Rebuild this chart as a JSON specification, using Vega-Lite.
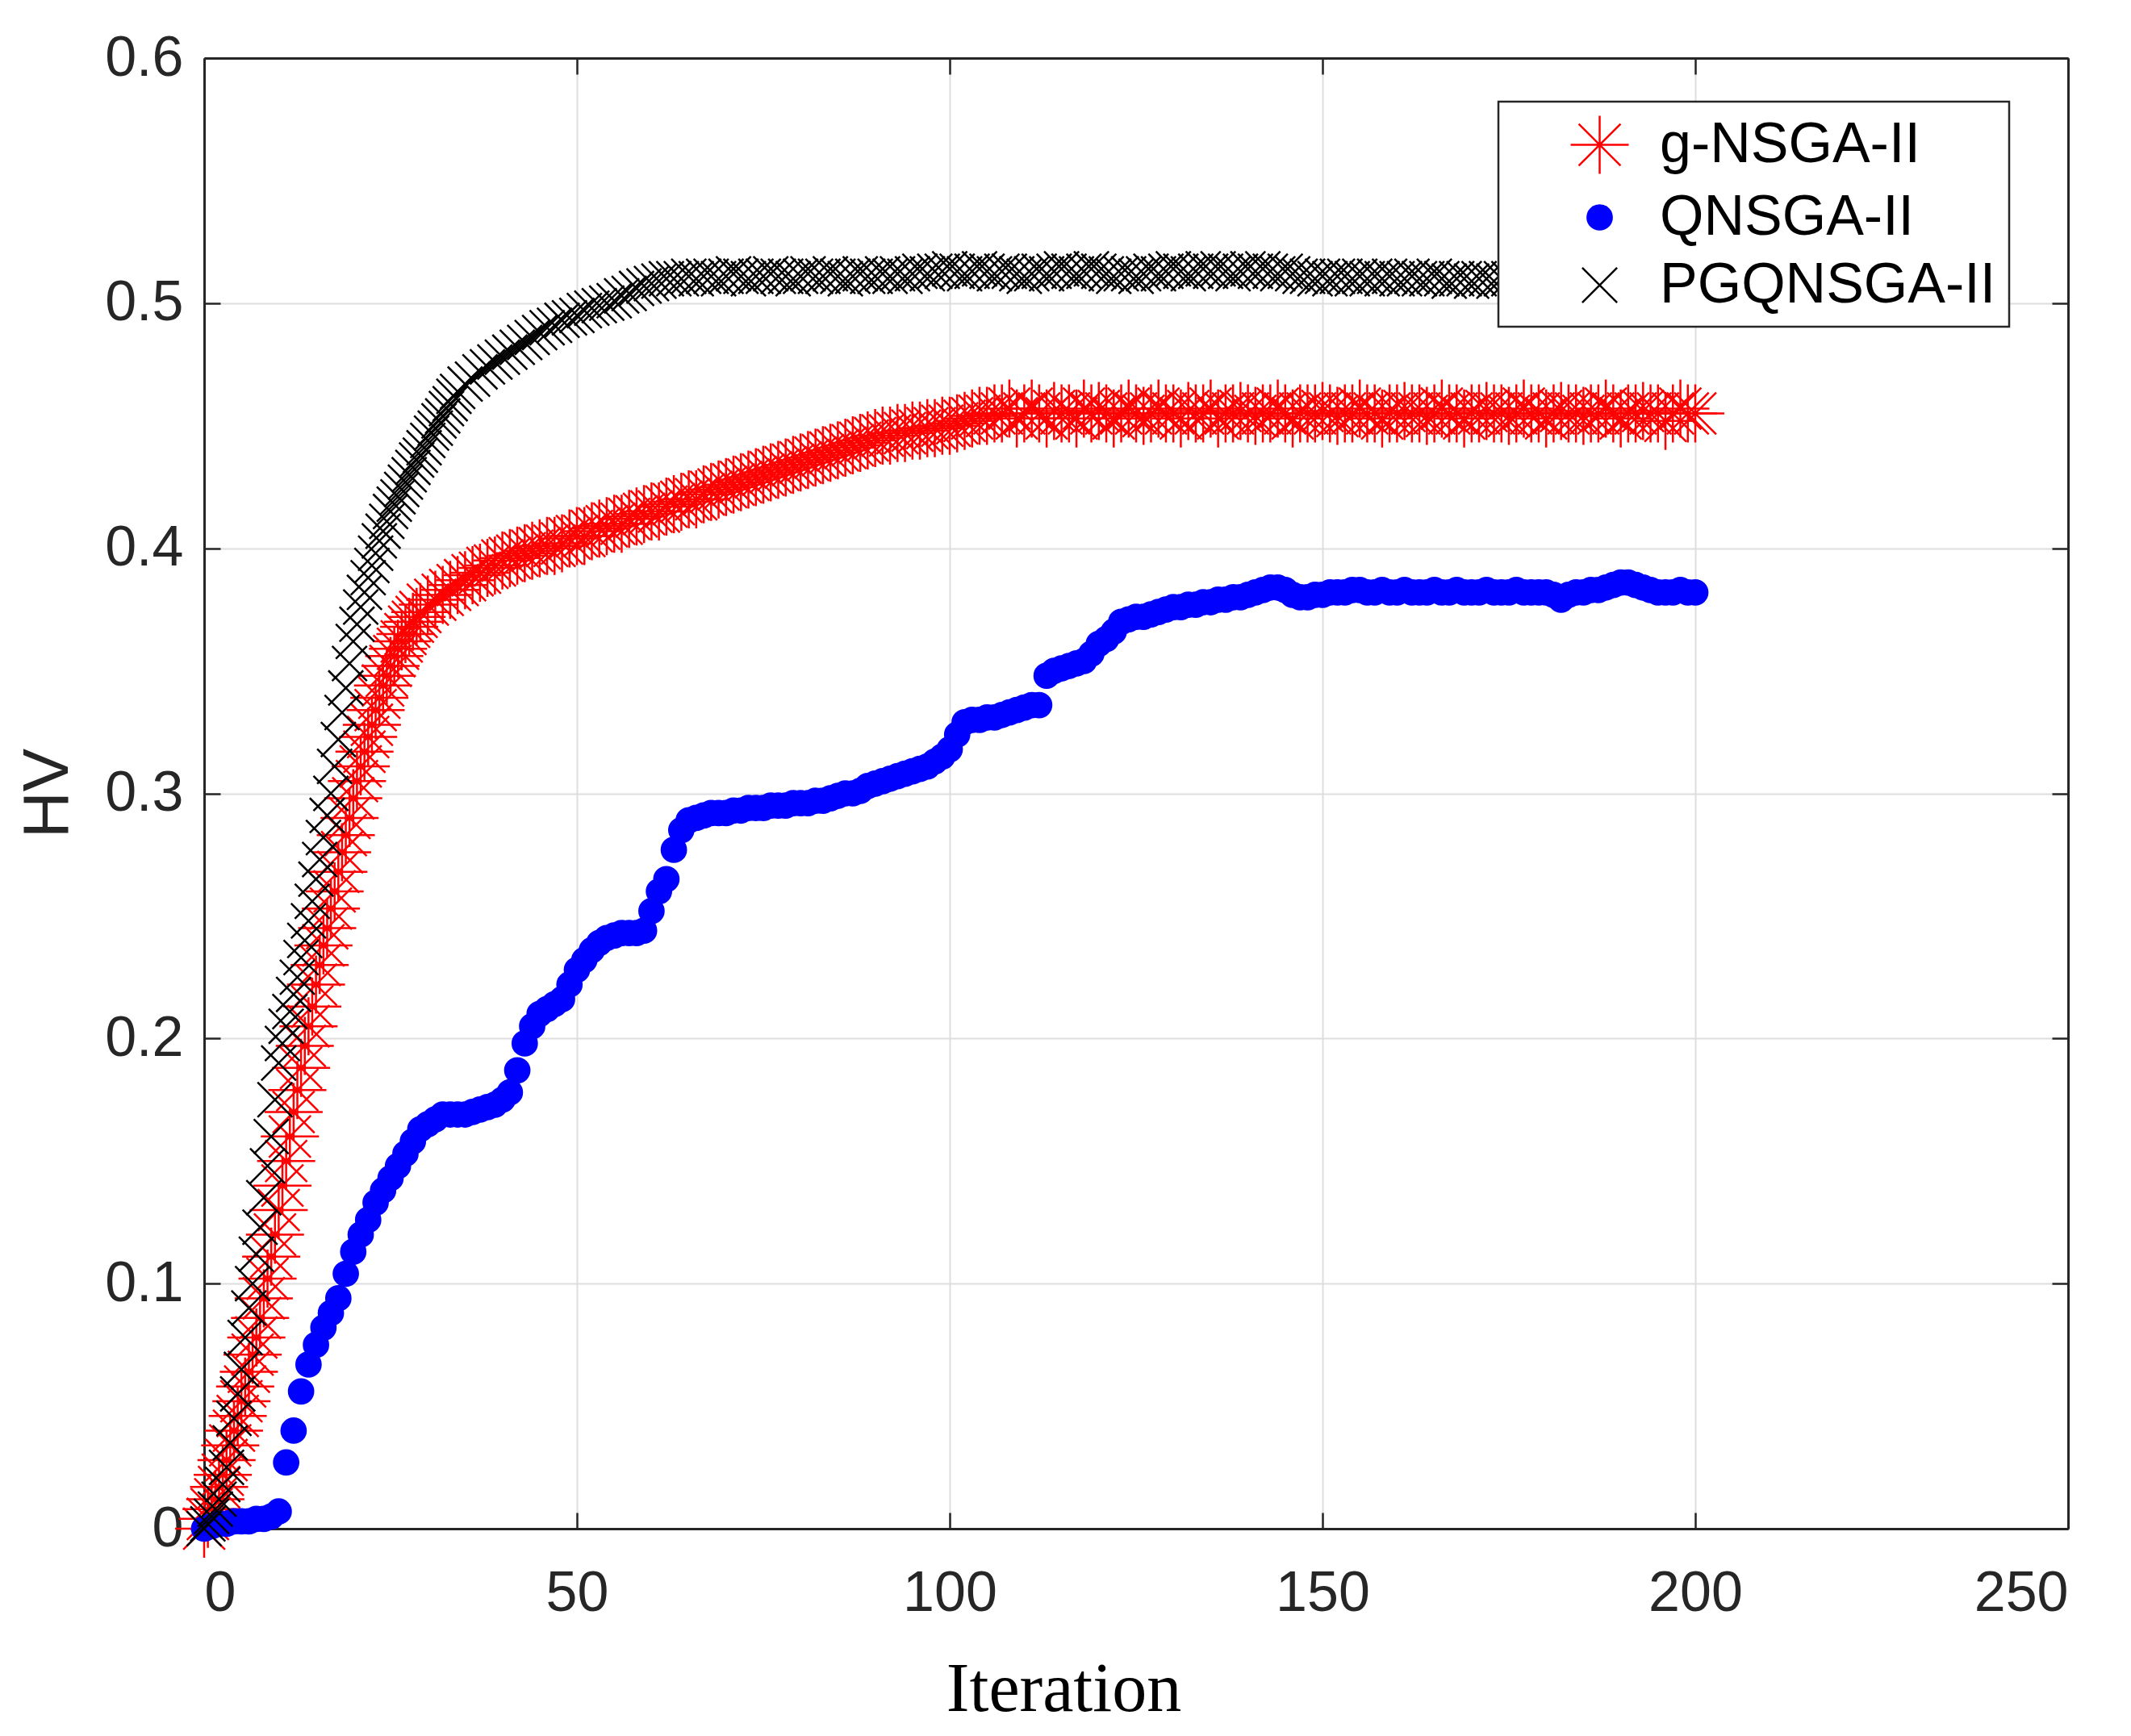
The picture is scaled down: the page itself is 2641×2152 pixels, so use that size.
{
  "$schema": "https://vega.github.io/schema/vega-lite/v6.json",
  "background": "white",
  "autosize": {"type": "none"},
  "padding": {"left": 253, "top": 72, "right": 78, "bottom": 257},
  "width": 2310,
  "height": 1823,
  "data": {
    "values": [
      {"s":"g-NSGA-II","i":0,"hv":0.000},{"s":"g-NSGA-II","i":1,"hv":0.008},{"s":"g-NSGA-II","i":2,"hv":0.017},{"s":"g-NSGA-II","i":3,"hv":0.028},{"s":"g-NSGA-II","i":4,"hv":0.040},
      {"s":"g-NSGA-II","i":5,"hv":0.052},{"s":"g-NSGA-II","i":6,"hv":0.064},{"s":"g-NSGA-II","i":7,"hv":0.078},{"s":"g-NSGA-II","i":8,"hv":0.094},{"s":"g-NSGA-II","i":9,"hv":0.111},
      {"s":"g-NSGA-II","i":10,"hv":0.130},{"s":"g-NSGA-II","i":11,"hv":0.150},{"s":"g-NSGA-II","i":12,"hv":0.170},{"s":"g-NSGA-II","i":13,"hv":0.188},{"s":"g-NSGA-II","i":14,"hv":0.205},
      {"s":"g-NSGA-II","i":15,"hv":0.222},{"s":"g-NSGA-II","i":16,"hv":0.238},{"s":"g-NSGA-II","i":17,"hv":0.253},{"s":"g-NSGA-II","i":18,"hv":0.268},{"s":"g-NSGA-II","i":19,"hv":0.283},
      {"s":"g-NSGA-II","i":20,"hv":0.298},{"s":"g-NSGA-II","i":21,"hv":0.311},{"s":"g-NSGA-II","i":22,"hv":0.323},{"s":"g-NSGA-II","i":23,"hv":0.334},{"s":"g-NSGA-II","i":24,"hv":0.344},
      {"s":"g-NSGA-II","i":25,"hv":0.352},{"s":"g-NSGA-II","i":26,"hv":0.359},{"s":"g-NSGA-II","i":27,"hv":0.365},{"s":"g-NSGA-II","i":28,"hv":0.370},{"s":"g-NSGA-II","i":29,"hv":0.374},
      {"s":"g-NSGA-II","i":30,"hv":0.377},{"s":"g-NSGA-II","i":31,"hv":0.379},{"s":"g-NSGA-II","i":32,"hv":0.381},{"s":"g-NSGA-II","i":33,"hv":0.383},{"s":"g-NSGA-II","i":34,"hv":0.385},
      {"s":"g-NSGA-II","i":35,"hv":0.387},{"s":"g-NSGA-II","i":36,"hv":0.389},{"s":"g-NSGA-II","i":37,"hv":0.390},{"s":"g-NSGA-II","i":38,"hv":0.392},{"s":"g-NSGA-II","i":39,"hv":0.393},
      {"s":"g-NSGA-II","i":40,"hv":0.395},{"s":"g-NSGA-II","i":41,"hv":0.396},{"s":"g-NSGA-II","i":42,"hv":0.397},{"s":"g-NSGA-II","i":43,"hv":0.398},{"s":"g-NSGA-II","i":44,"hv":0.399},
      {"s":"g-NSGA-II","i":45,"hv":0.400},{"s":"g-NSGA-II","i":46,"hv":0.401},{"s":"g-NSGA-II","i":47,"hv":0.401},{"s":"g-NSGA-II","i":48,"hv":0.402},{"s":"g-NSGA-II","i":49,"hv":0.404},
      {"s":"g-NSGA-II","i":50,"hv":0.405},{"s":"g-NSGA-II","i":51,"hv":0.405},{"s":"g-NSGA-II","i":52,"hv":0.407},{"s":"g-NSGA-II","i":53,"hv":0.408},{"s":"g-NSGA-II","i":54,"hv":0.409},
      {"s":"g-NSGA-II","i":55,"hv":0.410},{"s":"g-NSGA-II","i":56,"hv":0.410},{"s":"g-NSGA-II","i":57,"hv":0.412},{"s":"g-NSGA-II","i":58,"hv":0.413},{"s":"g-NSGA-II","i":59,"hv":0.414},
      {"s":"g-NSGA-II","i":60,"hv":0.415},{"s":"g-NSGA-II","i":61,"hv":0.415},{"s":"g-NSGA-II","i":62,"hv":0.417},{"s":"g-NSGA-II","i":63,"hv":0.418},{"s":"g-NSGA-II","i":64,"hv":0.419},
      {"s":"g-NSGA-II","i":65,"hv":0.420},{"s":"g-NSGA-II","i":66,"hv":0.420},{"s":"g-NSGA-II","i":67,"hv":0.422},{"s":"g-NSGA-II","i":68,"hv":0.423},{"s":"g-NSGA-II","i":69,"hv":0.424},
      {"s":"g-NSGA-II","i":70,"hv":0.425},{"s":"g-NSGA-II","i":71,"hv":0.426},{"s":"g-NSGA-II","i":72,"hv":0.427},{"s":"g-NSGA-II","i":73,"hv":0.428},{"s":"g-NSGA-II","i":74,"hv":0.429},
      {"s":"g-NSGA-II","i":75,"hv":0.430},{"s":"g-NSGA-II","i":76,"hv":0.431},{"s":"g-NSGA-II","i":77,"hv":0.432},{"s":"g-NSGA-II","i":78,"hv":0.433},{"s":"g-NSGA-II","i":79,"hv":0.434},
      {"s":"g-NSGA-II","i":80,"hv":0.435},{"s":"g-NSGA-II","i":81,"hv":0.436},{"s":"g-NSGA-II","i":82,"hv":0.437},{"s":"g-NSGA-II","i":83,"hv":0.438},{"s":"g-NSGA-II","i":84,"hv":0.439},
      {"s":"g-NSGA-II","i":85,"hv":0.440},{"s":"g-NSGA-II","i":86,"hv":0.441},{"s":"g-NSGA-II","i":87,"hv":0.442},{"s":"g-NSGA-II","i":88,"hv":0.443},{"s":"g-NSGA-II","i":89,"hv":0.444},
      {"s":"g-NSGA-II","i":90,"hv":0.445},{"s":"g-NSGA-II","i":91,"hv":0.446},{"s":"g-NSGA-II","i":92,"hv":0.446},{"s":"g-NSGA-II","i":93,"hv":0.447},{"s":"g-NSGA-II","i":94,"hv":0.447},
      {"s":"g-NSGA-II","i":95,"hv":0.448},{"s":"g-NSGA-II","i":96,"hv":0.448},{"s":"g-NSGA-II","i":97,"hv":0.449},{"s":"g-NSGA-II","i":98,"hv":0.449},{"s":"g-NSGA-II","i":99,"hv":0.450},
      {"s":"g-NSGA-II","i":100,"hv":0.450},{"s":"g-NSGA-II","i":101,"hv":0.451},{"s":"g-NSGA-II","i":102,"hv":0.452},{"s":"g-NSGA-II","i":103,"hv":0.453},{"s":"g-NSGA-II","i":104,"hv":0.454},
      {"s":"g-NSGA-II","i":105,"hv":0.454},{"s":"g-NSGA-II","i":106,"hv":0.455},{"s":"g-NSGA-II","i":107,"hv":0.455},{"s":"g-NSGA-II","i":108,"hv":0.457},{"s":"g-NSGA-II","i":109,"hv":0.453},
      {"s":"g-NSGA-II","i":110,"hv":0.455},{"s":"g-NSGA-II","i":111,"hv":0.457},{"s":"g-NSGA-II","i":112,"hv":0.455},{"s":"g-NSGA-II","i":113,"hv":0.453},{"s":"g-NSGA-II","i":114,"hv":0.456},
      {"s":"g-NSGA-II","i":115,"hv":0.455},{"s":"g-NSGA-II","i":116,"hv":0.455},{"s":"g-NSGA-II","i":117,"hv":0.453},{"s":"g-NSGA-II","i":118,"hv":0.457},{"s":"g-NSGA-II","i":119,"hv":0.455},
      {"s":"g-NSGA-II","i":120,"hv":0.456},{"s":"g-NSGA-II","i":121,"hv":0.455},{"s":"g-NSGA-II","i":122,"hv":0.453},{"s":"g-NSGA-II","i":123,"hv":0.455},{"s":"g-NSGA-II","i":124,"hv":0.457},
      {"s":"g-NSGA-II","i":125,"hv":0.455},{"s":"g-NSGA-II","i":126,"hv":0.454},{"s":"g-NSGA-II","i":127,"hv":0.455},{"s":"g-NSGA-II","i":128,"hv":0.457},{"s":"g-NSGA-II","i":129,"hv":0.455},
      {"s":"g-NSGA-II","i":130,"hv":0.455},{"s":"g-NSGA-II","i":131,"hv":0.453},{"s":"g-NSGA-II","i":132,"hv":0.456},{"s":"g-NSGA-II","i":133,"hv":0.455},{"s":"g-NSGA-II","i":134,"hv":0.455},
      {"s":"g-NSGA-II","i":135,"hv":0.457},{"s":"g-NSGA-II","i":136,"hv":0.453},{"s":"g-NSGA-II","i":137,"hv":0.455},{"s":"g-NSGA-II","i":138,"hv":0.455},{"s":"g-NSGA-II","i":139,"hv":0.456},
      {"s":"g-NSGA-II","i":140,"hv":0.455},{"s":"g-NSGA-II","i":141,"hv":0.454},{"s":"g-NSGA-II","i":142,"hv":0.455},{"s":"g-NSGA-II","i":143,"hv":0.455},{"s":"g-NSGA-II","i":144,"hv":0.457},
      {"s":"g-NSGA-II","i":145,"hv":0.455},{"s":"g-NSGA-II","i":146,"hv":0.453},{"s":"g-NSGA-II","i":147,"hv":0.455},{"s":"g-NSGA-II","i":148,"hv":0.455},{"s":"g-NSGA-II","i":149,"hv":0.455},
      {"s":"g-NSGA-II","i":150,"hv":0.456},{"s":"g-NSGA-II","i":151,"hv":0.455},{"s":"g-NSGA-II","i":152,"hv":0.454},{"s":"g-NSGA-II","i":153,"hv":0.455},{"s":"g-NSGA-II","i":154,"hv":0.455},
      {"s":"g-NSGA-II","i":155,"hv":0.457},{"s":"g-NSGA-II","i":156,"hv":0.455},{"s":"g-NSGA-II","i":157,"hv":0.455},{"s":"g-NSGA-II","i":158,"hv":0.453},{"s":"g-NSGA-II","i":159,"hv":0.455},
      {"s":"g-NSGA-II","i":160,"hv":0.455},{"s":"g-NSGA-II","i":161,"hv":0.456},{"s":"g-NSGA-II","i":162,"hv":0.455},{"s":"g-NSGA-II","i":163,"hv":0.455},{"s":"g-NSGA-II","i":164,"hv":0.454},
      {"s":"g-NSGA-II","i":165,"hv":0.455},{"s":"g-NSGA-II","i":166,"hv":0.457},{"s":"g-NSGA-II","i":167,"hv":0.455},{"s":"g-NSGA-II","i":168,"hv":0.455},{"s":"g-NSGA-II","i":169,"hv":0.453},
      {"s":"g-NSGA-II","i":170,"hv":0.455},{"s":"g-NSGA-II","i":171,"hv":0.455},{"s":"g-NSGA-II","i":172,"hv":0.456},{"s":"g-NSGA-II","i":173,"hv":0.455},{"s":"g-NSGA-II","i":174,"hv":0.455},
      {"s":"g-NSGA-II","i":175,"hv":0.454},{"s":"g-NSGA-II","i":176,"hv":0.455},{"s":"g-NSGA-II","i":177,"hv":0.457},{"s":"g-NSGA-II","i":178,"hv":0.455},{"s":"g-NSGA-II","i":179,"hv":0.455},
      {"s":"g-NSGA-II","i":180,"hv":0.453},{"s":"g-NSGA-II","i":181,"hv":0.455},{"s":"g-NSGA-II","i":182,"hv":0.456},{"s":"g-NSGA-II","i":183,"hv":0.455},{"s":"g-NSGA-II","i":184,"hv":0.455},
      {"s":"g-NSGA-II","i":185,"hv":0.454},{"s":"g-NSGA-II","i":186,"hv":0.455},{"s":"g-NSGA-II","i":187,"hv":0.455},{"s":"g-NSGA-II","i":188,"hv":0.457},{"s":"g-NSGA-II","i":189,"hv":0.455},
      {"s":"g-NSGA-II","i":190,"hv":0.453},{"s":"g-NSGA-II","i":191,"hv":0.455},{"s":"g-NSGA-II","i":192,"hv":0.455},{"s":"g-NSGA-II","i":193,"hv":0.456},{"s":"g-NSGA-II","i":194,"hv":0.455},
      {"s":"g-NSGA-II","i":195,"hv":0.455},{"s":"g-NSGA-II","i":196,"hv":0.452},{"s":"g-NSGA-II","i":197,"hv":0.455},{"s":"g-NSGA-II","i":198,"hv":0.457},{"s":"g-NSGA-II","i":199,"hv":0.455},
      {"s":"g-NSGA-II","i":200,"hv":0.455},
      {"s":"g-NSGA-II","i":0.5,"hv":0.004},{"s":"g-NSGA-II","i":1.5,"hv":0.012},{"s":"g-NSGA-II","i":2.5,"hv":0.022},{"s":"g-NSGA-II","i":3.5,"hv":0.034},{"s":"g-NSGA-II","i":4.5,"hv":0.046},
      {"s":"g-NSGA-II","i":5.5,"hv":0.058},{"s":"g-NSGA-II","i":6.5,"hv":0.071},{"s":"g-NSGA-II","i":7.5,"hv":0.086},{"s":"g-NSGA-II","i":8.5,"hv":0.102},{"s":"g-NSGA-II","i":9.5,"hv":0.120},
      {"s":"g-NSGA-II","i":10.5,"hv":0.140},{"s":"g-NSGA-II","i":11.5,"hv":0.160},{"s":"g-NSGA-II","i":12.5,"hv":0.179},{"s":"g-NSGA-II","i":13.5,"hv":0.197},{"s":"g-NSGA-II","i":14.5,"hv":0.213},
      {"s":"g-NSGA-II","i":15.5,"hv":0.230},{"s":"g-NSGA-II","i":16.5,"hv":0.245},{"s":"g-NSGA-II","i":17.5,"hv":0.260},{"s":"g-NSGA-II","i":18.5,"hv":0.276},{"s":"g-NSGA-II","i":19.5,"hv":0.290},
      {"s":"g-NSGA-II","i":20.5,"hv":0.305},{"s":"g-NSGA-II","i":21.5,"hv":0.317},{"s":"g-NSGA-II","i":22.5,"hv":0.328},{"s":"g-NSGA-II","i":23.5,"hv":0.339},{"s":"g-NSGA-II","i":24.5,"hv":0.348},
      {"s":"g-NSGA-II","i":25.5,"hv":0.356},{"s":"g-NSGA-II","i":26.5,"hv":0.362},{"s":"g-NSGA-II","i":27.5,"hv":0.368},{"s":"g-NSGA-II","i":28.5,"hv":0.372},

      {"s":"QNSGA-II","i":0,"hv":0.000},{"s":"QNSGA-II","i":1,"hv":0.001},{"s":"QNSGA-II","i":2,"hv":0.002},{"s":"QNSGA-II","i":3,"hv":0.002},{"s":"QNSGA-II","i":4,"hv":0.003},
      {"s":"QNSGA-II","i":5,"hv":0.003},{"s":"QNSGA-II","i":6,"hv":0.003},{"s":"QNSGA-II","i":7,"hv":0.004},{"s":"QNSGA-II","i":8,"hv":0.004},{"s":"QNSGA-II","i":9,"hv":0.005},
      {"s":"QNSGA-II","i":10,"hv":0.007},{"s":"QNSGA-II","i":11,"hv":0.027},{"s":"QNSGA-II","i":12,"hv":0.040},{"s":"QNSGA-II","i":13,"hv":0.056},{"s":"QNSGA-II","i":14,"hv":0.067},
      {"s":"QNSGA-II","i":15,"hv":0.075},{"s":"QNSGA-II","i":16,"hv":0.082},{"s":"QNSGA-II","i":17,"hv":0.088},{"s":"QNSGA-II","i":18,"hv":0.094},{"s":"QNSGA-II","i":19,"hv":0.104},
      {"s":"QNSGA-II","i":20,"hv":0.113},{"s":"QNSGA-II","i":21,"hv":0.120},{"s":"QNSGA-II","i":22,"hv":0.126},{"s":"QNSGA-II","i":23,"hv":0.133},{"s":"QNSGA-II","i":24,"hv":0.138},
      {"s":"QNSGA-II","i":25,"hv":0.143},{"s":"QNSGA-II","i":26,"hv":0.148},{"s":"QNSGA-II","i":27,"hv":0.153},{"s":"QNSGA-II","i":28,"hv":0.158},{"s":"QNSGA-II","i":29,"hv":0.163},
      {"s":"QNSGA-II","i":30,"hv":0.165},{"s":"QNSGA-II","i":31,"hv":0.167},{"s":"QNSGA-II","i":32,"hv":0.169},{"s":"QNSGA-II","i":33,"hv":0.169},{"s":"QNSGA-II","i":34,"hv":0.169},
      {"s":"QNSGA-II","i":35,"hv":0.169},{"s":"QNSGA-II","i":36,"hv":0.170},{"s":"QNSGA-II","i":37,"hv":0.171},{"s":"QNSGA-II","i":38,"hv":0.172},{"s":"QNSGA-II","i":39,"hv":0.173},
      {"s":"QNSGA-II","i":40,"hv":0.175},{"s":"QNSGA-II","i":41,"hv":0.178},{"s":"QNSGA-II","i":42,"hv":0.187},{"s":"QNSGA-II","i":43,"hv":0.198},{"s":"QNSGA-II","i":44,"hv":0.205},
      {"s":"QNSGA-II","i":45,"hv":0.210},{"s":"QNSGA-II","i":46,"hv":0.212},{"s":"QNSGA-II","i":47,"hv":0.214},{"s":"QNSGA-II","i":48,"hv":0.216},{"s":"QNSGA-II","i":49,"hv":0.222},
      {"s":"QNSGA-II","i":50,"hv":0.228},{"s":"QNSGA-II","i":51,"hv":0.232},{"s":"QNSGA-II","i":52,"hv":0.236},{"s":"QNSGA-II","i":53,"hv":0.239},{"s":"QNSGA-II","i":54,"hv":0.241},
      {"s":"QNSGA-II","i":55,"hv":0.242},{"s":"QNSGA-II","i":56,"hv":0.243},{"s":"QNSGA-II","i":57,"hv":0.243},{"s":"QNSGA-II","i":58,"hv":0.243},{"s":"QNSGA-II","i":59,"hv":0.244},
      {"s":"QNSGA-II","i":60,"hv":0.252},{"s":"QNSGA-II","i":61,"hv":0.260},{"s":"QNSGA-II","i":62,"hv":0.265},{"s":"QNSGA-II","i":63,"hv":0.277},{"s":"QNSGA-II","i":64,"hv":0.285},
      {"s":"QNSGA-II","i":65,"hv":0.289},{"s":"QNSGA-II","i":66,"hv":0.290},{"s":"QNSGA-II","i":67,"hv":0.291},{"s":"QNSGA-II","i":68,"hv":0.292},{"s":"QNSGA-II","i":69,"hv":0.292},
      {"s":"QNSGA-II","i":70,"hv":0.292},{"s":"QNSGA-II","i":71,"hv":0.293},{"s":"QNSGA-II","i":72,"hv":0.293},{"s":"QNSGA-II","i":73,"hv":0.294},{"s":"QNSGA-II","i":74,"hv":0.294},
      {"s":"QNSGA-II","i":75,"hv":0.294},{"s":"QNSGA-II","i":76,"hv":0.295},{"s":"QNSGA-II","i":77,"hv":0.295},{"s":"QNSGA-II","i":78,"hv":0.295},{"s":"QNSGA-II","i":79,"hv":0.296},
      {"s":"QNSGA-II","i":80,"hv":0.296},{"s":"QNSGA-II","i":81,"hv":0.296},{"s":"QNSGA-II","i":82,"hv":0.297},{"s":"QNSGA-II","i":83,"hv":0.297},{"s":"QNSGA-II","i":84,"hv":0.298},
      {"s":"QNSGA-II","i":85,"hv":0.299},{"s":"QNSGA-II","i":86,"hv":0.300},{"s":"QNSGA-II","i":87,"hv":0.300},{"s":"QNSGA-II","i":88,"hv":0.301},{"s":"QNSGA-II","i":89,"hv":0.303},
      {"s":"QNSGA-II","i":90,"hv":0.304},{"s":"QNSGA-II","i":91,"hv":0.305},{"s":"QNSGA-II","i":92,"hv":0.306},{"s":"QNSGA-II","i":93,"hv":0.307},{"s":"QNSGA-II","i":94,"hv":0.308},
      {"s":"QNSGA-II","i":95,"hv":0.309},{"s":"QNSGA-II","i":96,"hv":0.310},{"s":"QNSGA-II","i":97,"hv":0.311},{"s":"QNSGA-II","i":98,"hv":0.313},{"s":"QNSGA-II","i":99,"hv":0.315},
      {"s":"QNSGA-II","i":100,"hv":0.318},{"s":"QNSGA-II","i":101,"hv":0.324},{"s":"QNSGA-II","i":102,"hv":0.329},{"s":"QNSGA-II","i":103,"hv":0.330},{"s":"QNSGA-II","i":104,"hv":0.330},
      {"s":"QNSGA-II","i":105,"hv":0.331},{"s":"QNSGA-II","i":106,"hv":0.331},{"s":"QNSGA-II","i":107,"hv":0.332},{"s":"QNSGA-II","i":108,"hv":0.333},{"s":"QNSGA-II","i":109,"hv":0.334},
      {"s":"QNSGA-II","i":110,"hv":0.335},{"s":"QNSGA-II","i":111,"hv":0.336},{"s":"QNSGA-II","i":112,"hv":0.336},{"s":"QNSGA-II","i":113,"hv":0.348},{"s":"QNSGA-II","i":114,"hv":0.350},
      {"s":"QNSGA-II","i":115,"hv":0.351},{"s":"QNSGA-II","i":116,"hv":0.352},{"s":"QNSGA-II","i":117,"hv":0.353},{"s":"QNSGA-II","i":118,"hv":0.354},{"s":"QNSGA-II","i":119,"hv":0.357},
      {"s":"QNSGA-II","i":120,"hv":0.361},{"s":"QNSGA-II","i":121,"hv":0.363},{"s":"QNSGA-II","i":122,"hv":0.366},{"s":"QNSGA-II","i":123,"hv":0.370},{"s":"QNSGA-II","i":124,"hv":0.371},
      {"s":"QNSGA-II","i":125,"hv":0.372},{"s":"QNSGA-II","i":126,"hv":0.372},{"s":"QNSGA-II","i":127,"hv":0.373},{"s":"QNSGA-II","i":128,"hv":0.374},{"s":"QNSGA-II","i":129,"hv":0.375},
      {"s":"QNSGA-II","i":130,"hv":0.376},{"s":"QNSGA-II","i":131,"hv":0.376},{"s":"QNSGA-II","i":132,"hv":0.377},{"s":"QNSGA-II","i":133,"hv":0.377},{"s":"QNSGA-II","i":134,"hv":0.378},
      {"s":"QNSGA-II","i":135,"hv":0.378},{"s":"QNSGA-II","i":136,"hv":0.379},{"s":"QNSGA-II","i":137,"hv":0.379},{"s":"QNSGA-II","i":138,"hv":0.380},{"s":"QNSGA-II","i":139,"hv":0.380},
      {"s":"QNSGA-II","i":140,"hv":0.381},{"s":"QNSGA-II","i":141,"hv":0.382},{"s":"QNSGA-II","i":142,"hv":0.383},{"s":"QNSGA-II","i":143,"hv":0.384},{"s":"QNSGA-II","i":144,"hv":0.384},
      {"s":"QNSGA-II","i":145,"hv":0.383},{"s":"QNSGA-II","i":146,"hv":0.381},{"s":"QNSGA-II","i":147,"hv":0.380},{"s":"QNSGA-II","i":148,"hv":0.380},{"s":"QNSGA-II","i":149,"hv":0.381},
      {"s":"QNSGA-II","i":150,"hv":0.381},{"s":"QNSGA-II","i":151,"hv":0.382},{"s":"QNSGA-II","i":152,"hv":0.382},{"s":"QNSGA-II","i":153,"hv":0.382},{"s":"QNSGA-II","i":154,"hv":0.383},
      {"s":"QNSGA-II","i":155,"hv":0.383},{"s":"QNSGA-II","i":156,"hv":0.382},{"s":"QNSGA-II","i":157,"hv":0.382},{"s":"QNSGA-II","i":158,"hv":0.383},{"s":"QNSGA-II","i":159,"hv":0.382},
      {"s":"QNSGA-II","i":160,"hv":0.382},{"s":"QNSGA-II","i":161,"hv":0.383},{"s":"QNSGA-II","i":162,"hv":0.382},{"s":"QNSGA-II","i":163,"hv":0.382},{"s":"QNSGA-II","i":164,"hv":0.382},
      {"s":"QNSGA-II","i":165,"hv":0.383},{"s":"QNSGA-II","i":166,"hv":0.382},{"s":"QNSGA-II","i":167,"hv":0.382},{"s":"QNSGA-II","i":168,"hv":0.383},{"s":"QNSGA-II","i":169,"hv":0.382},
      {"s":"QNSGA-II","i":170,"hv":0.382},{"s":"QNSGA-II","i":171,"hv":0.382},{"s":"QNSGA-II","i":172,"hv":0.383},{"s":"QNSGA-II","i":173,"hv":0.382},{"s":"QNSGA-II","i":174,"hv":0.382},
      {"s":"QNSGA-II","i":175,"hv":0.382},{"s":"QNSGA-II","i":176,"hv":0.383},{"s":"QNSGA-II","i":177,"hv":0.382},{"s":"QNSGA-II","i":178,"hv":0.382},{"s":"QNSGA-II","i":179,"hv":0.382},
      {"s":"QNSGA-II","i":180,"hv":0.382},{"s":"QNSGA-II","i":181,"hv":0.381},{"s":"QNSGA-II","i":182,"hv":0.379},{"s":"QNSGA-II","i":183,"hv":0.381},{"s":"QNSGA-II","i":184,"hv":0.382},
      {"s":"QNSGA-II","i":185,"hv":0.382},{"s":"QNSGA-II","i":186,"hv":0.383},{"s":"QNSGA-II","i":187,"hv":0.383},{"s":"QNSGA-II","i":188,"hv":0.384},{"s":"QNSGA-II","i":189,"hv":0.385},
      {"s":"QNSGA-II","i":190,"hv":0.386},{"s":"QNSGA-II","i":191,"hv":0.386},{"s":"QNSGA-II","i":192,"hv":0.385},{"s":"QNSGA-II","i":193,"hv":0.384},{"s":"QNSGA-II","i":194,"hv":0.383},
      {"s":"QNSGA-II","i":195,"hv":0.382},{"s":"QNSGA-II","i":196,"hv":0.382},{"s":"QNSGA-II","i":197,"hv":0.382},{"s":"QNSGA-II","i":198,"hv":0.383},{"s":"QNSGA-II","i":199,"hv":0.382},
      {"s":"QNSGA-II","i":200,"hv":0.382},

      {"s":"PGQNSGA-II","i":0,"hv":0.000},{"s":"PGQNSGA-II","i":1,"hv":0.005},{"s":"PGQNSGA-II","i":2,"hv":0.012},{"s":"PGQNSGA-II","i":3,"hv":0.025},{"s":"PGQNSGA-II","i":4,"hv":0.045},
      {"s":"PGQNSGA-II","i":5,"hv":0.065},{"s":"PGQNSGA-II","i":6,"hv":0.090},{"s":"PGQNSGA-II","i":7,"hv":0.112},{"s":"PGQNSGA-II","i":8,"hv":0.135},{"s":"PGQNSGA-II","i":9,"hv":0.160},
      {"s":"PGQNSGA-II","i":10,"hv":0.190},{"s":"PGQNSGA-II","i":11,"hv":0.205},{"s":"PGQNSGA-II","i":12,"hv":0.218},{"s":"PGQNSGA-II","i":13,"hv":0.233},{"s":"PGQNSGA-II","i":14,"hv":0.248},
      {"s":"PGQNSGA-II","i":15,"hv":0.265},{"s":"PGQNSGA-II","i":16,"hv":0.282},{"s":"PGQNSGA-II","i":17,"hv":0.300},{"s":"PGQNSGA-II","i":18,"hv":0.322},{"s":"PGQNSGA-II","i":19,"hv":0.343},
      {"s":"PGQNSGA-II","i":20,"hv":0.362},{"s":"PGQNSGA-II","i":21,"hv":0.376},{"s":"PGQNSGA-II","i":22,"hv":0.388},{"s":"PGQNSGA-II","i":23,"hv":0.398},{"s":"PGQNSGA-II","i":24,"hv":0.407},
      {"s":"PGQNSGA-II","i":25,"hv":0.415},{"s":"PGQNSGA-II","i":26,"hv":0.421},{"s":"PGQNSGA-II","i":27,"hv":0.427},{"s":"PGQNSGA-II","i":28,"hv":0.433},{"s":"PGQNSGA-II","i":29,"hv":0.438},
      {"s":"PGQNSGA-II","i":30,"hv":0.444},{"s":"PGQNSGA-II","i":31,"hv":0.449},{"s":"PGQNSGA-II","i":32,"hv":0.454},{"s":"PGQNSGA-II","i":33,"hv":0.459},{"s":"PGQNSGA-II","i":34,"hv":0.464},
      {"s":"PGQNSGA-II","i":35,"hv":0.467},{"s":"PGQNSGA-II","i":36,"hv":0.469},{"s":"PGQNSGA-II","i":37,"hv":0.472},{"s":"PGQNSGA-II","i":38,"hv":0.474},{"s":"PGQNSGA-II","i":39,"hv":0.476},
      {"s":"PGQNSGA-II","i":40,"hv":0.478},{"s":"PGQNSGA-II","i":41,"hv":0.480},{"s":"PGQNSGA-II","i":42,"hv":0.482},{"s":"PGQNSGA-II","i":43,"hv":0.484},{"s":"PGQNSGA-II","i":44,"hv":0.486},
      {"s":"PGQNSGA-II","i":45,"hv":0.488},{"s":"PGQNSGA-II","i":46,"hv":0.490},{"s":"PGQNSGA-II","i":47,"hv":0.491},{"s":"PGQNSGA-II","i":48,"hv":0.493},{"s":"PGQNSGA-II","i":49,"hv":0.494},
      {"s":"PGQNSGA-II","i":50,"hv":0.495},{"s":"PGQNSGA-II","i":51,"hv":0.497},{"s":"PGQNSGA-II","i":52,"hv":0.498},{"s":"PGQNSGA-II","i":53,"hv":0.499},{"s":"PGQNSGA-II","i":54,"hv":0.500},
      {"s":"PGQNSGA-II","i":55,"hv":0.501},{"s":"PGQNSGA-II","i":56,"hv":0.503},{"s":"PGQNSGA-II","i":57,"hv":0.504},{"s":"PGQNSGA-II","i":58,"hv":0.506},{"s":"PGQNSGA-II","i":59,"hv":0.507},
      {"s":"PGQNSGA-II","i":60,"hv":0.508},{"s":"PGQNSGA-II","i":61,"hv":0.509},{"s":"PGQNSGA-II","i":62,"hv":0.510},{"s":"PGQNSGA-II","i":63,"hv":0.510},{"s":"PGQNSGA-II","i":64,"hv":0.510},
      {"s":"PGQNSGA-II","i":65,"hv":0.511},{"s":"PGQNSGA-II","i":66,"hv":0.510},{"s":"PGQNSGA-II","i":67,"hv":0.511},{"s":"PGQNSGA-II","i":68,"hv":0.511},{"s":"PGQNSGA-II","i":69,"hv":0.510},
      {"s":"PGQNSGA-II","i":70,"hv":0.511},{"s":"PGQNSGA-II","i":71,"hv":0.512},{"s":"PGQNSGA-II","i":72,"hv":0.511},{"s":"PGQNSGA-II","i":73,"hv":0.510},{"s":"PGQNSGA-II","i":74,"hv":0.511},
      {"s":"PGQNSGA-II","i":75,"hv":0.511},{"s":"PGQNSGA-II","i":76,"hv":0.512},{"s":"PGQNSGA-II","i":77,"hv":0.511},{"s":"PGQNSGA-II","i":78,"hv":0.511},{"s":"PGQNSGA-II","i":79,"hv":0.510},
      {"s":"PGQNSGA-II","i":80,"hv":0.511},{"s":"PGQNSGA-II","i":81,"hv":0.512},{"s":"PGQNSGA-II","i":82,"hv":0.511},{"s":"PGQNSGA-II","i":83,"hv":0.511},{"s":"PGQNSGA-II","i":84,"hv":0.512},
      {"s":"PGQNSGA-II","i":85,"hv":0.511},{"s":"PGQNSGA-II","i":86,"hv":0.510},{"s":"PGQNSGA-II","i":87,"hv":0.511},{"s":"PGQNSGA-II","i":88,"hv":0.512},{"s":"PGQNSGA-II","i":89,"hv":0.511},
      {"s":"PGQNSGA-II","i":90,"hv":0.511},{"s":"PGQNSGA-II","i":91,"hv":0.512},{"s":"PGQNSGA-II","i":92,"hv":0.511},{"s":"PGQNSGA-II","i":93,"hv":0.512},{"s":"PGQNSGA-II","i":94,"hv":0.511},
      {"s":"PGQNSGA-II","i":95,"hv":0.512},{"s":"PGQNSGA-II","i":96,"hv":0.513},{"s":"PGQNSGA-II","i":97,"hv":0.512},{"s":"PGQNSGA-II","i":98,"hv":0.513},{"s":"PGQNSGA-II","i":99,"hv":0.513},
      {"s":"PGQNSGA-II","i":100,"hv":0.514},{"s":"PGQNSGA-II","i":101,"hv":0.513},{"s":"PGQNSGA-II","i":102,"hv":0.512},{"s":"PGQNSGA-II","i":103,"hv":0.513},{"s":"PGQNSGA-II","i":104,"hv":0.514},
      {"s":"PGQNSGA-II","i":105,"hv":0.513},{"s":"PGQNSGA-II","i":106,"hv":0.512},{"s":"PGQNSGA-II","i":107,"hv":0.513},{"s":"PGQNSGA-II","i":108,"hv":0.513},{"s":"PGQNSGA-II","i":109,"hv":0.512},
      {"s":"PGQNSGA-II","i":110,"hv":0.511},{"s":"PGQNSGA-II","i":111,"hv":0.512},{"s":"PGQNSGA-II","i":112,"hv":0.513},{"s":"PGQNSGA-II","i":113,"hv":0.512},{"s":"PGQNSGA-II","i":114,"hv":0.513},
      {"s":"PGQNSGA-II","i":115,"hv":0.514},{"s":"PGQNSGA-II","i":116,"hv":0.513},{"s":"PGQNSGA-II","i":117,"hv":0.512},{"s":"PGQNSGA-II","i":118,"hv":0.513},{"s":"PGQNSGA-II","i":119,"hv":0.514},
      {"s":"PGQNSGA-II","i":120,"hv":0.513},{"s":"PGQNSGA-II","i":121,"hv":0.512},{"s":"PGQNSGA-II","i":122,"hv":0.511},{"s":"PGQNSGA-II","i":123,"hv":0.512},{"s":"PGQNSGA-II","i":124,"hv":0.512},
      {"s":"PGQNSGA-II","i":125,"hv":0.511},{"s":"PGQNSGA-II","i":126,"hv":0.512},{"s":"PGQNSGA-II","i":127,"hv":0.513},{"s":"PGQNSGA-II","i":128,"hv":0.512},{"s":"PGQNSGA-II","i":129,"hv":0.513},
      {"s":"PGQNSGA-II","i":130,"hv":0.514},{"s":"PGQNSGA-II","i":131,"hv":0.513},{"s":"PGQNSGA-II","i":132,"hv":0.512},{"s":"PGQNSGA-II","i":133,"hv":0.513},{"s":"PGQNSGA-II","i":134,"hv":0.514},
      {"s":"PGQNSGA-II","i":135,"hv":0.513},{"s":"PGQNSGA-II","i":136,"hv":0.514},{"s":"PGQNSGA-II","i":137,"hv":0.513},{"s":"PGQNSGA-II","i":138,"hv":0.512},{"s":"PGQNSGA-II","i":139,"hv":0.513},
      {"s":"PGQNSGA-II","i":140,"hv":0.514},{"s":"PGQNSGA-II","i":141,"hv":0.513},{"s":"PGQNSGA-II","i":142,"hv":0.514},{"s":"PGQNSGA-II","i":143,"hv":0.513},{"s":"PGQNSGA-II","i":144,"hv":0.512},
      {"s":"PGQNSGA-II","i":145,"hv":0.513},{"s":"PGQNSGA-II","i":146,"hv":0.512},{"s":"PGQNSGA-II","i":147,"hv":0.511},{"s":"PGQNSGA-II","i":148,"hv":0.511},{"s":"PGQNSGA-II","i":149,"hv":0.510},
      {"s":"PGQNSGA-II","i":150,"hv":0.511},{"s":"PGQNSGA-II","i":151,"hv":0.510},{"s":"PGQNSGA-II","i":152,"hv":0.511},{"s":"PGQNSGA-II","i":153,"hv":0.511},{"s":"PGQNSGA-II","i":154,"hv":0.510},
      {"s":"PGQNSGA-II","i":155,"hv":0.511},{"s":"PGQNSGA-II","i":156,"hv":0.510},{"s":"PGQNSGA-II","i":157,"hv":0.511},{"s":"PGQNSGA-II","i":158,"hv":0.510},{"s":"PGQNSGA-II","i":159,"hv":0.511},
      {"s":"PGQNSGA-II","i":160,"hv":0.510},{"s":"PGQNSGA-II","i":161,"hv":0.510},{"s":"PGQNSGA-II","i":162,"hv":0.511},{"s":"PGQNSGA-II","i":163,"hv":0.510},{"s":"PGQNSGA-II","i":164,"hv":0.510},
      {"s":"PGQNSGA-II","i":165,"hv":0.511},{"s":"PGQNSGA-II","i":166,"hv":0.510},{"s":"PGQNSGA-II","i":167,"hv":0.509},{"s":"PGQNSGA-II","i":168,"hv":0.510},{"s":"PGQNSGA-II","i":169,"hv":0.510},
      {"s":"PGQNSGA-II","i":170,"hv":0.509},{"s":"PGQNSGA-II","i":171,"hv":0.510},{"s":"PGQNSGA-II","i":172,"hv":0.510},{"s":"PGQNSGA-II","i":173,"hv":0.509},{"s":"PGQNSGA-II","i":174,"hv":0.510},
      {"s":"PGQNSGA-II","i":175,"hv":0.510},{"s":"PGQNSGA-II","i":176,"hv":0.509},{"s":"PGQNSGA-II","i":177,"hv":0.510},{"s":"PGQNSGA-II","i":178,"hv":0.510},{"s":"PGQNSGA-II","i":179,"hv":0.509},
      {"s":"PGQNSGA-II","i":180,"hv":0.510},{"s":"PGQNSGA-II","i":181,"hv":0.510},{"s":"PGQNSGA-II","i":182,"hv":0.511},{"s":"PGQNSGA-II","i":183,"hv":0.510},{"s":"PGQNSGA-II","i":184,"hv":0.510},
      {"s":"PGQNSGA-II","i":185,"hv":0.511},{"s":"PGQNSGA-II","i":186,"hv":0.510},{"s":"PGQNSGA-II","i":187,"hv":0.510},{"s":"PGQNSGA-II","i":188,"hv":0.511},{"s":"PGQNSGA-II","i":189,"hv":0.510},
      {"s":"PGQNSGA-II","i":190,"hv":0.510},{"s":"PGQNSGA-II","i":191,"hv":0.511},{"s":"PGQNSGA-II","i":192,"hv":0.510},{"s":"PGQNSGA-II","i":193,"hv":0.510},{"s":"PGQNSGA-II","i":194,"hv":0.511},
      {"s":"PGQNSGA-II","i":195,"hv":0.510},{"s":"PGQNSGA-II","i":196,"hv":0.510},{"s":"PGQNSGA-II","i":197,"hv":0.511},{"s":"PGQNSGA-II","i":198,"hv":0.510},{"s":"PGQNSGA-II","i":199,"hv":0.510},
      {"s":"PGQNSGA-II","i":200,"hv":0.510},
      {"s":"PGQNSGA-II","i":0.5,"hv":0.002},{"s":"PGQNSGA-II","i":1.5,"hv":0.008},{"s":"PGQNSGA-II","i":2.5,"hv":0.018},{"s":"PGQNSGA-II","i":3.5,"hv":0.035},{"s":"PGQNSGA-II","i":4.5,"hv":0.055},
      {"s":"PGQNSGA-II","i":5.5,"hv":0.078},{"s":"PGQNSGA-II","i":6.5,"hv":0.100},{"s":"PGQNSGA-II","i":7.5,"hv":0.123},{"s":"PGQNSGA-II","i":8.5,"hv":0.148},{"s":"PGQNSGA-II","i":9.5,"hv":0.175},
      {"s":"PGQNSGA-II","i":10.5,"hv":0.198},{"s":"PGQNSGA-II","i":11.5,"hv":0.211},{"s":"PGQNSGA-II","i":12.5,"hv":0.225},{"s":"PGQNSGA-II","i":13.5,"hv":0.240},{"s":"PGQNSGA-II","i":14.5,"hv":0.256},
      {"s":"PGQNSGA-II","i":15.5,"hv":0.273},{"s":"PGQNSGA-II","i":16.5,"hv":0.291},{"s":"PGQNSGA-II","i":17.5,"hv":0.311},{"s":"PGQNSGA-II","i":18.5,"hv":0.333},{"s":"PGQNSGA-II","i":19.5,"hv":0.353},
      {"s":"PGQNSGA-II","i":20.5,"hv":0.369},{"s":"PGQNSGA-II","i":21.5,"hv":0.382},{"s":"PGQNSGA-II","i":22.5,"hv":0.393},{"s":"PGQNSGA-II","i":23.5,"hv":0.403},{"s":"PGQNSGA-II","i":24.5,"hv":0.411},
      {"s":"PGQNSGA-II","i":25.5,"hv":0.418},{"s":"PGQNSGA-II","i":26.5,"hv":0.424},{"s":"PGQNSGA-II","i":27.5,"hv":0.430},{"s":"PGQNSGA-II","i":28.5,"hv":0.436},{"s":"PGQNSGA-II","i":29.5,"hv":0.441},
      {"s":"PGQNSGA-II","i":30.5,"hv":0.447},{"s":"PGQNSGA-II","i":31.5,"hv":0.452},{"s":"PGQNSGA-II","i":32.5,"hv":0.457},{"s":"PGQNSGA-II","i":33.5,"hv":0.462}
    ]
  },
  "layer": [
    {
      "mark": {"type": "point", "opacity": 1, "strokeWidth": 2.5, "size": 5184},
      "encoding": {
        "x": {
          "field": "i", "type": "quantitative",
          "scale": {"domain": [0, 250], "nice": false},
          "axis": {
            "values": [0, 50, 100, 150, 200, 250],
            "title": "Iteration", "titleFont": "Liberation Serif", "titleFontSize": 86,
            "titleFontWeight": "normal", "titleColor": "black",
            "titleX": 1065, "titleY": 225, "titleBaseline": "alphabetic", "titleAlign": "center"
          }
        },
        "y": {
          "field": "hv", "type": "quantitative",
          "scale": {"domain": [0, 0.6], "nice": false},
          "axis": {
            "values": [0, 0.1, 0.2, 0.3, 0.4, 0.5, 0.6],
            "labelExpr": "datum.value == 0 ? '0' : format(datum.value, '.1f')",
            "title": "HV", "titleFont": "Liberation Sans", "titleFontSize": 80,
            "titleFontWeight": "normal", "titleColor": "#262626",
            "titleAngle": -90, "titleX": -170, "titleY": 911,
            "titleBaseline": "alphabetic", "titleAlign": "center"
          }
        },
        "shape": {
          "field": "s", "type": "nominal",
          "scale": {
            "domain": ["g-NSGA-II", "QNSGA-II", "PGQNSGA-II"],
            "range": [
              "M-1,0L1,0M0,-1L0,1M-0.72,-0.72L0.72,0.72M-0.72,0.72L0.72,-0.72",
              "M-0.42,0A0.42,0.42,0,1,0,0.42,0A0.42,0.42,0,1,0,-0.42,0Z",
              "M-0.6,-0.6L0.6,0.6M-0.6,0.6L0.6,-0.6"
            ]
          }
        },
        "stroke": {
          "field": "s", "type": "nominal",
          "scale": {"domain": ["g-NSGA-II", "QNSGA-II", "PGQNSGA-II"], "range": ["#ff0000", "#0000ff", "#000000"]}
        },
        "fill": {
          "field": "s", "type": "nominal",
          "scale": {"domain": ["g-NSGA-II", "QNSGA-II", "PGQNSGA-II"], "range": ["transparent", "#0000ff", "transparent"]}
        }
      }
    },
    {
      "mark": {"type": "point", "opacity": 0},
      "encoding": {
        "x": {
          "field": "i", "type": "quantitative",
          "axis": {"orient": "top", "values": [0, 50, 100, 150, 200, 250], "labels": false, "title": null, "grid": false}
        },
        "y": {
          "field": "hv", "type": "quantitative",
          "axis": {"orient": "right", "values": [0, 0.1, 0.2, 0.3, 0.4, 0.5, 0.6], "labels": false, "title": null, "grid": false}
        }
      }
    }
  ],
  "resolve": {"axis": {"x": "independent", "y": "independent"}},
  "config": {
    "view": {"stroke": null},
    "axis": {
      "labelFont": "Liberation Sans", "labelFontSize": 70, "labelColor": "#262626",
      "domainColor": "#262626", "domainWidth": 3,
      "tickColor": "#262626", "tickWidth": 2.5, "tickSize": -20,
      "gridColor": "#dedede", "gridWidth": 2
    },
    "axisX": {"labelPadding": 66},
    "axisY": {"labelPadding": 46},
    "legend": {
      "orient": "none", "legendX": 1604, "legendY": 54,
      "title": null,
      "fillColor": "white", "strokeColor": "#262626", "strokeWidth": 2.5,
      "padding": 16,
      "symbolSize": 5184, "symbolStrokeWidth": 2.5, "symbolOffset": 72,
      "labelOffset": 37, "labelFont": "Liberation Sans", "labelFontSize": 70,
      "labelColor": "black", "labelLimit": 0, "rowPadding": 11
    }
  }
}
